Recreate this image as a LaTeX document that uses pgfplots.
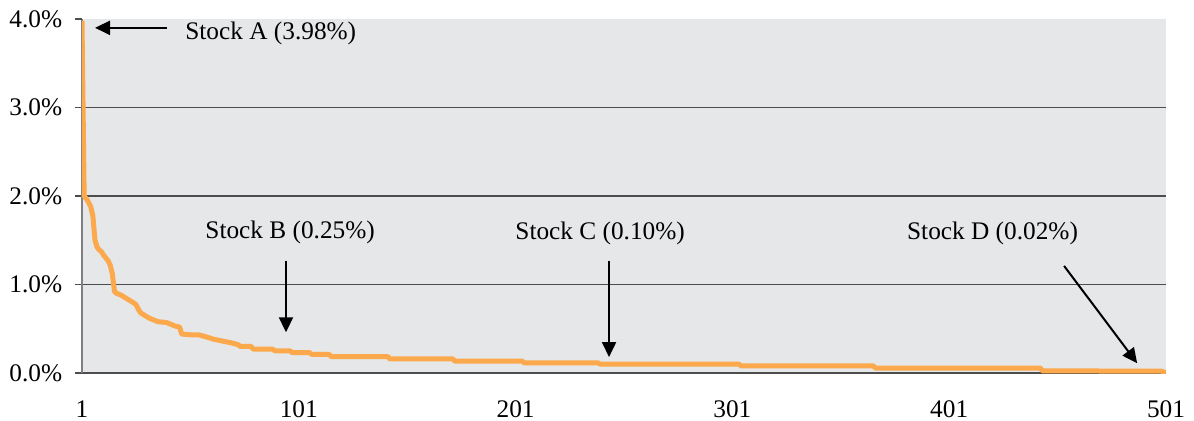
\documentclass[border=0pt]{standalone}
\usepackage{fontspec}
\setmainfont{Liberation Serif}
\usepackage{pgfplots}
\pgfplotsset{compat=1.18}
\usetikzlibrary{arrows.meta}
\definecolor{bg}{HTML}{E6E7E8}
\definecolor{orng}{HTML}{FBA94C}
\definecolor{gridc}{HTML}{4D4D4D}
\pgfplotstableread{
n w
1 3.98
2 2.00
3 1.97
4 1.93
5 1.88
6 1.78
7 1.50
8 1.42
9 1.39
10 1.37
11 1.33
12 1.30
13 1.27
14 1.22
15 1.12
16 0.92
17 0.90
19 0.88
21 0.85
23 0.82
25 0.79
26 0.77
27 0.72
28 0.68
30 0.65
32 0.62
34 0.60
36 0.58
40 0.57
42 0.55
44 0.53
46 0.52
47 0.44
52 0.43
55 0.43
58 0.41
62 0.38
66 0.36
70 0.34
73 0.32
74 0.30
79 0.30
80 0.27
89 0.27
90 0.25
97 0.25
98 0.23
106 0.23
107 0.21
115 0.21
116 0.185
142 0.185
143 0.16
172 0.16
173 0.135
204 0.135
205 0.115
239 0.115
240 0.10
304 0.10
305 0.08
366 0.08
367 0.055
443 0.055
444 0.025
499 0.02
501 0.00
}\weights
\begin{document}
\fontsize{12.7}{15}\selectfont
\begin{tikzpicture}
\begin{axis}[
  name=ax, scale only axis, width=542bp, height=177bp,
  xmin=1, xmax=501, ymin=0, ymax=4,
  axis background/.style={fill=bg},
  axis x line*=bottom, axis y line*=left,
  x axis line style={draw=gridc, line width=0.9bp},
  y axis line style={draw=gray, line width=1bp},
  xtick={1,101,201,301,401,501},
  xticklabels={1,101,201,301,401,501},
  xtick style={draw=none},
  ytick={0,1,2,3},
  yticklabels={0.0\%,1.0\%,2.0\%,3.0\%},
  extra y ticks={4},
  extra y tick labels={4.0\%},
  extra y tick style={grid=none},
  ymajorgrids,
  grid style={draw=gridc, line width=0.6bp},
  ytick style={draw=gridc, line width=0.6bp},
  tick align=outside, major tick length=3.5bp,
  ticklabel style={font=\fontsize{12.7}{15}\selectfont},
  yticklabel style={xshift=-2bp},
  xticklabel style={yshift=-6bp},
]
\addplot[orng, line width=2.5bp, line join=round] table[x=n, y=w] {\weights};
\draw[-{Triangle[length=7.5bp,width=7bp]}, line width=1bp] (axis cs:40.2,3.90) -- (axis cs:7,3.90);
\node[anchor=west, inner sep=0pt] at (axis cs:48.5,3.84) {Stock A (3.98\%)};
\node[inner sep=0pt] at (axis cs:97,1.59) {Stock B (0.25\%)};
\draw[-{Triangle[length=7.5bp,width=7bp]}, line width=1bp] (axis cs:95.1,1.27) -- (axis cs:95.1,0.46);
\node[inner sep=0pt] at (axis cs:240,1.58) {Stock C (0.10\%)};
\draw[-{Triangle[length=7.5bp,width=7bp]}, line width=1bp] (axis cs:244.1,1.27) -- (axis cs:244.1,0.18);
\node[inner sep=0pt] at (axis cs:421,1.58) {Stock D (0.02\%)};
\draw[-{Triangle[length=7.5bp,width=7bp]}, line width=1bp] (axis cs:454,1.21) -- (axis cs:487.7,0.11);
\end{axis}
\pgfresetboundingbox
\path ([shift={(-41bp,-24bp)}]ax.south west) rectangle ([shift={(14bp,9.5bp)}]ax.north east);
\end{tikzpicture}
\end{document}
